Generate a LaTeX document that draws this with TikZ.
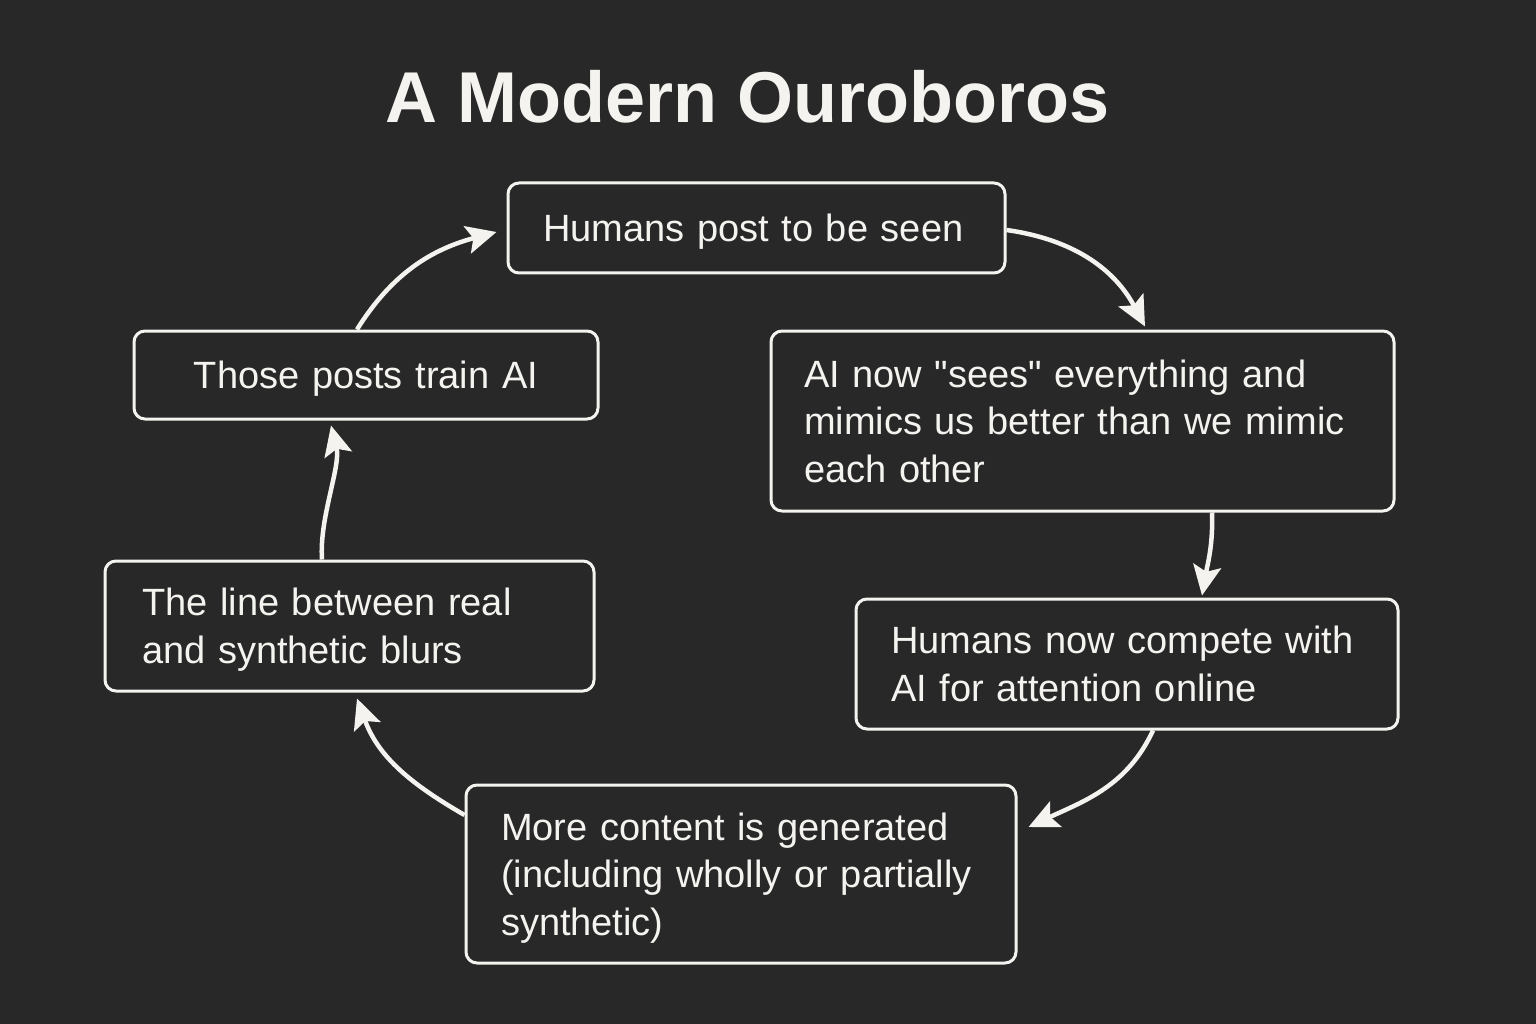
\documentclass[tikz,border=0pt]{standalone}
\usepackage{fontspec}
\setmainfont{Liberation Sans}[Ligatures=TeXOff]
\usetikzlibrary{arrows.meta}
\definecolor{bg}{HTML}{282828}
\definecolor{fg}{HTML}{F4F3EF}
\begin{document}
\begin{tikzpicture}[x=1pt,y=-1pt,
  box/.style={draw=fg, line width=3pt, rounded corners=11pt, fill=bg, text=fg,
    inner ysep=0pt, align=left, font=\fontsize{38}{47.5}\selectfont,
    execute at begin node={\rule{0pt}{0.95em}},
    execute at end node={\rule[-0.234em]{0pt}{0pt}}},
  flow/.style={draw=fg, line width=4.5pt, -{Stealth[length=30pt,width=28pt,inset=6pt]}}]
\fill[bg] (0,0) rectangle (1536,1024);
\useasboundingbox (0,0) rectangle (1536,1024);

\node[text=fg, font=\fontsize{72}{80}\selectfont\bfseries, anchor=base] (title) at (747.5,123) {A Modern Ouroboros};

\node[box, minimum width=497pt, minimum height=90pt, inner xsep=35pt, text width=427pt] (b1) at (756.5,228) {Humans post to be seen};
\node[box, minimum width=623pt, minimum height=180pt, inner xsep=33pt, text width=557pt] (b2) at (1082.5,421) {AI now "sees" everything and\\mimics us better than we mimic\\each other};
\node[box, minimum width=542pt, minimum height=130pt, inner xsep=35pt, text width=472pt] (b3) at (1127,664) {Humans now compete with\\AI for attention online};
\node[box, minimum width=550pt, minimum height=178pt, inner xsep=35pt, text width=480pt] (b4) at (741,874) {More content is generated\\(including wholly or partially\\synthetic)};
\node[box, minimum width=489pt, minimum height=130pt, inner xsep=37pt, text width=415pt] (b5) at (349.5,626) {The line between real\\and synthetic blurs};
\node[box, align=center, minimum width=464pt, minimum height=88pt, inner xsep=35pt, text width=394pt] (b6) at (366,375) {Those posts train AI};

\draw[flow] ([yshift=-2pt]b1.east) to[out=-8,in=118] ([xshift=62.5pt,yshift=3pt]b2.north);
\draw[flow] ([xshift=129.5pt]b2.south) to[out=-88,in=80] ([xshift=75pt,yshift=2pt]b3.north);
\draw[flow] ([xshift=26pt]b3.south) to[out=-115,in=25] ([xshift=11pt,yshift=47pt]b4.east);
\draw[flow] ([yshift=59pt]b4.west) to[out=150,in=-70] ([xshift=7.5pt,yshift=-6pt]b5.south);
\draw[flow] ([xshift=-27.5pt]b5.north) to[out=94,in=-76,looseness=0.8] ([xshift=-35pt,yshift=-5pt]b6.south);
\draw[flow] ([xshift=-9pt]b6.north) to[out=58,in=195] ([xshift=-10pt,yshift=-4pt]b1.west);
\end{tikzpicture}
\end{document}
